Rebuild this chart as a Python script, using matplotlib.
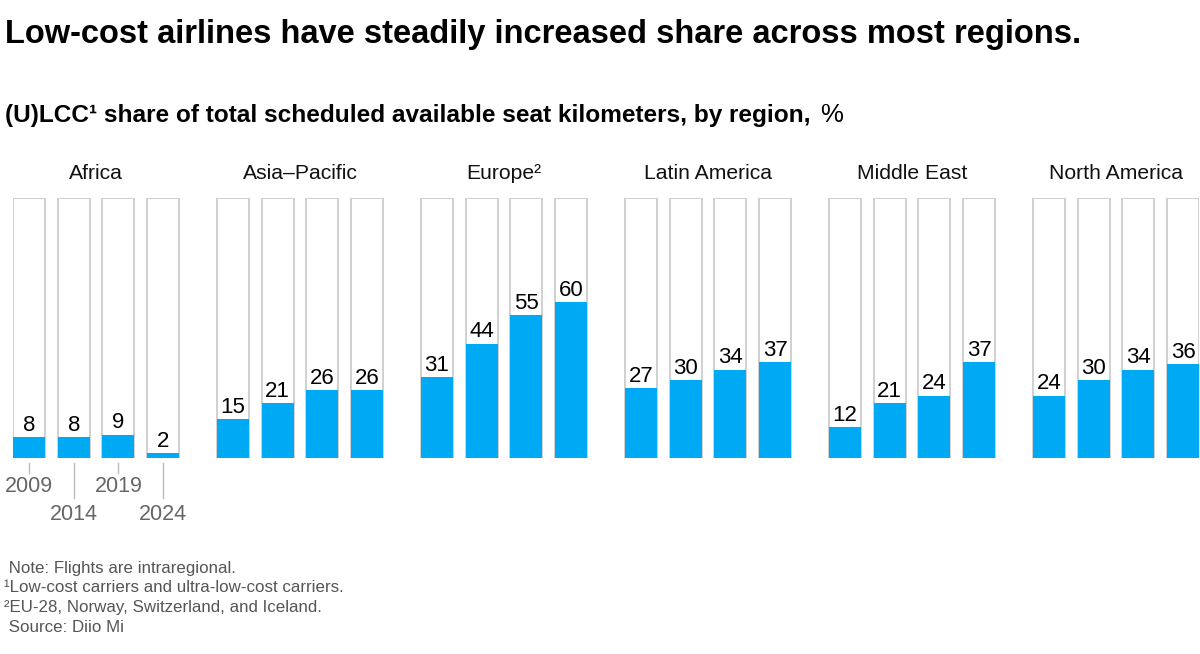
import matplotlib.pyplot as plt

regions = ["Africa", "Asia\u2013Pacific", "Europe\u00b2", "Latin America", "Middle East", "North America"]
years = ["2009", "2014", "2019", "2024"]
shares = [
    [8, 8, 9, 2],
    [15, 21, 26, 26],
    [31, 44, 55, 60],
    [27, 30, 34, 37],
    [12, 21, 24, 37],
    [24, 30, 34, 36],
]

blue = "#00a9f4"
outline = "#c8c8c8"
group_step = 4.564
bar_w = 0.716

plt.rcParams["font.family"] = ["Liberation Sans", "DejaVu Sans"]

fig = plt.figure(figsize=(12, 6.54), dpi=100)
ax = fig.add_axes([13 / 1200, 1 - 458 / 654, 1186 / 1200, 260 / 654])

for g, (region, vals) in enumerate(zip(regions, shares)):
    lefts = [g * group_step + i for i in range(len(vals))]
    # empty 100% frame behind each bar
    ax.bar(lefts, [100] * len(vals), width=bar_w, align="edge",
           facecolor="white", edgecolor=outline, linewidth=1.2, zorder=1)
    ax.bar(lefts, vals, width=bar_w, align="edge",
           color=blue, linewidth=0, zorder=2)
    for x, v in zip(lefts, vals):
        ax.text(x + bar_w / 2, v + 2.4, str(v), ha="center", va="baseline",
                fontsize=16, color="black", zorder=3)
    ax.text(g * group_step + (3 + bar_w) / 2, 109.3, region, ha="center",
            va="center", fontsize=15.2, color="#111111")

# year labels under the first group only
for i, yr in enumerate(years):
    x = i + bar_w / 2
    low = i % 2 == 1
    ax.plot([x, x], [-1.9, -15.4 if low else -5.8], color="#bbbbbb",
            lw=1, clip_on=False)
    ax.text(x, -17.8 if low else -6.8, yr, ha="center", va="top",
            fontsize=15.5, color="#666666")

ax.set_xlim(0, 5 * group_step + 3 + bar_w)
ax.set_ylim(0, 100)
ax.axis("off")

fig.text(5 / 1200, 1 - 43 / 654, "Low-cost airlines have steadily increased share across most regions.",
         fontsize=23.5, fontweight="bold", va="baseline", ha="left")
sub = fig.text(5 / 1200, 1 - 122 / 654,
               "(U)LCC\u00b9 share of total scheduled available seat kilometers, by region,",
               fontsize=17.6, fontweight="bold", va="baseline", ha="left")
fig.canvas.draw()
bb = sub.get_window_extent(renderer=fig.canvas.get_renderer())
fig.text(bb.x1 / fig.bbox.width + 10 / 1200, 1 - 122 / 654, "%", fontsize=18.5,
         va="baseline", ha="left")

notes = [
    " Note: Flights are intraregional.",
    "\u00b9Low-cost carriers and ultra-low-cost carriers.",
    "\u00b2EU-28, Norway, Switzerland, and Iceland.",
    " Source: Diio Mi",
]
for k, line in enumerate(notes):
    fig.text(4 / 1200, 1 - (568 + k * 19.7) / 654, line, fontsize=12.2,
             color="#555555", va="center", ha="left")

fig.savefig("out.png", dpi=100)
